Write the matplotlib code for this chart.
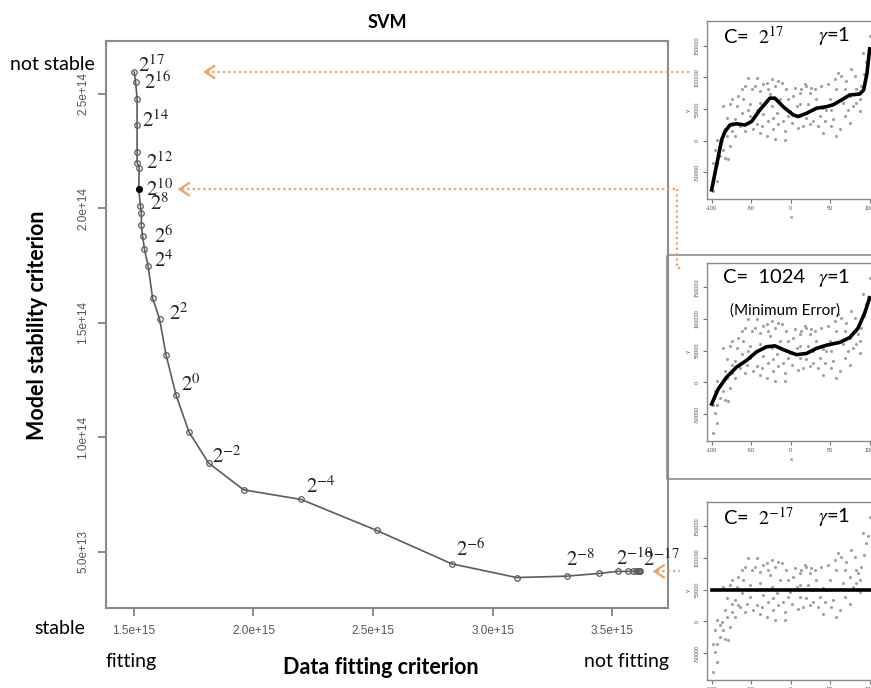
import matplotlib
matplotlib.use('Agg')
import matplotlib.pyplot as plt
from matplotlib.patches import Rectangle

W, H = 871, 688

# --- main chart data: one point per C = 2^k ---
c_exp = [17, 16, 15, 14, 13, 12, 11, 10, 9, 8, 7, 6, 5, 4, 3, 2, 1, 0,
         -1, -2, -3, -4, -5, -6, -7, -8, -9, -10, -11, -12, -13, -14, -15, -16, -17]
fit_crit = [1.501, 1.507, 1.513, 1.513, 1.513, 1.513, 1.522, 1.520, 1.527, 1.531,
            1.531, 1.536, 1.544, 1.559, 1.578, 1.607, 1.634, 1.676, 1.730, 1.812,
            1.959, 2.199, 2.515, 2.829, 3.101, 3.310, 3.446, 3.524, 3.566, 3.589,
            3.600, 3.607, 3.611, 3.614, 3.616]  # x 1e15
stab_crit = [2.595, 2.550, 2.477, 2.364, 2.247, 2.199, 2.177, 2.083, 2.010, 1.979,
             1.925, 1.878, 1.820, 1.749, 1.607, 1.516, 1.360, 1.184, 1.023, 0.887,
             0.770, 0.728, 0.593, 0.447, 0.387, 0.393, 0.405, 0.414, 0.414, 0.414,
             0.414, 0.414, 0.414, 0.414, 0.414]  # x 1e14
labeled_exp = [17, 16, 14, 12, 10, 8, 6, 4, 2, 0, -2, -4, -6, -8, -10, -17]
x_ticks = [1.5e15, 2.0e15, 2.5e15, 3.0e15, 3.5e15]
x_tick_labels = ['1.5e+15', '2.0e+15', '2.5e+15', '3.0e+15', '3.5e+15']
y_ticks = [5e13, 1e14, 1.5e14, 2e14, 2.5e14]
y_tick_labels = ['5.0e+13', '1.0e+14', '1.5e+14', '2.0e+14', '2.5e+14']

# --- inset data (same sample in the three small plots) ---
pts_x = [-98.7, -95.8, -93.7, -92.8, -95.8, -89.5, -87.4, -83.2, -79.0, -76.8,
         -81.1, -74.7, -70.5, -62.1, -60.0, -53.7, -45.3, -38.9, -30.5, -24.2,
         -15.8, -64.2, -55.8, -47.4, -38.9, -30.5, -20.0, -7.4, -68.4, -51.6,
         -34.7, -22.1, -13.7, -5.3, 3.2, 11.6, 15.8, 20.0, 26.3, 32.6,
         36.8, 41.1, 45.3, 53.7, 62.1, 64.2, 70.5, 76.8, 83.2, 87.4,
         91.6, 95.8, 100.0, -81.1, -76.8, -43.2, -26.3, -1.1, 7.4, 28.4,
         49.5, 57.9, 78.9, 87.4, 13.7, -9.5, 24.2,
         -85.3, -74.7, -66.3, -57.9, -49.5, -43.2, -34.7, -28.4, -20.0, -11.6,
         -3.2, 5.3, 11.6, 17.9, 24.2, 30.5, 38.9, 47.4, 55.8, 60.0,
         68.4, 74.7, 81.1, 89.5, -83.2, -70.5, -66.3, -57.9, -51.6, -43.2,
         -36.8, -28.4, -22.1, -15.8, -7.4, 1.1, 9.5, 20.0, 28.4, 34.7,
         43.2, 51.6, 57.9, 68.4, 74.7, 83.2, -89.5, -85.3, -93.7, -97.9,
         -74.7, -62.1, -53.7, -38.9, -24.2, -17.9, -3.2, 11.6, 22.1, 41.1,
         51.6, 66.3, 72.6, 85.3, 92.4, 97.9]
pts_y = [-1.61, -0.97, -1.29, -0.71, -0.29, -0.13, -0.02, -0.55, -0.60, -0.18,
         0.14, 0.30, 0.67, 1.62, 1.30, 1.99, 1.72, 1.57, 1.83, 1.94,
         1.88, 0.46, 0.56, 0.35, 0.24, 0.14, 0.05, 0.03, 1.09, 1.14,
         0.83, 0.72, 1.30, 1.62, 1.41, 0.77, 0.46, 1.72, 1.67, 1.30,
         0.77, 0.24, 0.98, 0.67, 0.35, 2.04, 1.88, 2.25, 1.62, 1.30,
         2.78, 2.47, 3.31, 0.72, 1.14, 0.98, 1.46, 0.93, 1.09, 0.98,
         1.30, 1.62, 1.09, 0.93, 1.62, 0.61, 0.51,
         1.09, 1.30, 1.41, 1.72, 1.62, 1.99, 1.78, 1.62, 1.72, 1.83,
         1.30, 1.67, 1.51, 1.78, 1.51, 1.62, 1.72, 1.78, 1.94, 2.15,
         1.62, 1.41, 2.04, 1.72, 0.35, 0.14, 0.51, 0.30, 0.77, 0.51,
         0.46, 0.61, 0.35, 0.51, 0.30, 0.56, 0.40, 0.72, 0.61, 0.46,
         0.61, 0.46, 0.14, 0.77, 0.56, 1.20, -0.50, -0.29, 0.03, -0.71,
         0.56, 0.88, 0.98, 1.20, 1.09, 0.88, 0.77, 1.14, 1.14, 1.04,
         0.98, 1.20, 0.98, 1.51, 2.10, 2.68]
fit1_x = [-100, -95.8, -91.6, -87.4, -83.2, -76.8, -68.4, -57.9, -49.5, -38.9, -26.3,
          -20.0, -9.5, 3.2, 9.5, 20.0, 32.6, 45.3, 53.7, 64.2, 74.7, 87.4, 92.4, 96.6, 100]
fit1_y = [-1.56, -1.03, -0.51, 0.02, 0.28, 0.49, 0.53, 0.49, 0.60, 0.97, 1.34,
          1.34, 1.07, 0.81, 0.76, 0.86, 1.02, 1.07, 1.13, 1.28, 1.44, 1.47, 1.60, 2.13, 2.90]
fit2_x = [-100, -91.6, -81.1, -68.4, -55.8, -43.2, -30.5, -20.0, -7.4, 7.4, 20.0,
          32.6, 45.3, 62.1, 74.7, 85.3, 93.7, 100]
fit2_y = [-0.69, -0.21, 0.16, 0.48, 0.69, 0.96, 1.12, 1.15, 1.01, 0.87, 0.91,
          1.07, 1.17, 1.26, 1.41, 1.71, 2.19, 2.67]
fit3_x = [-100, 100]
fit3_y = [1.0, 1.0]
in_xticks = [-100, -50, 0, 50, 100]
in_yticks = [-1, 0, 1, 2, 3]
in_ytick_labels = ['-50000', '0', '50000', '100000', '150000']

ORANGE = '#EFA062'
GREY = '#8a8a8a'

plt.rcParams['mathtext.fontset'] = 'stix'
plt.rcParams['font.family'] = ['Lato', 'DejaVu Sans']


def box(l, t, r, b):
    return [l / W, 1 - b / H, (r - l) / W, (b - t) / H]


def ftext(x, y, s, **kw):
    fig.text(x / W, 1 - y / H, s, **kw)


fig = plt.figure(figsize=(W / 100, H / 100), dpi=100)

# --- main plot ---
ax = fig.add_axes(box(106, 41, 668, 608))
fx = [v * 1e15 for v in fit_crit]
fy = [v * 1e14 for v in stab_crit]
ax.plot(fx, fy, '-', color='#5c5c5c', lw=1.2, zorder=2)
ax.plot(fx, fy, 'o', mfc='none', mec='#5c5c5c', ms=4, mew=0.9, zorder=3)
i10 = c_exp.index(10)
ax.plot(fx[i10], fy[i10], 'o', color='black', ms=4, zorder=4)
ax.set_xlim(1.383e15, 3.734e15)
ax.set_ylim(2.54e13, 2.73e14)
ax.set_xticks(x_ticks)
ax.set_xticklabels(x_tick_labels, fontfamily='Liberation Sans')
ax.set_yticks(y_ticks)
ax.set_yticklabels(y_tick_labels, rotation=90, va='center', fontfamily='Liberation Sans')
ax.tick_params(direction='out', length=6, width=1.2, color='#777777',
               labelsize=8.5, labelcolor='#555555', pad=6)
for sp in ax.spines.values():
    sp.set_color(GREY)
    sp.set_linewidth(1.5)

# labels of C values, offsets in pixels
label_off = {17: (4, 7), 16: (8, 0), 14: (5, 5), 12: (9, 0), 10: (7, 0), 8: (9, 10),
             6: (11, 0), 4: (6, 5), 2: (9, 6), 0: (5, 11), -2: (3, 7), -4: (5, 13),
             -6: (4, 15), -8: (-1, 17), -10: (-2, 13), -17: (3, 12)}
for e in labeled_exp:
    i = c_exp.index(e)
    ax.annotate('$2^{%d}$' % e, (fx[i], fy[i]), xytext=label_off[e],
                textcoords='offset pixels', ha='left', va='center',
                fontsize=15, color='#222222', zorder=5)

ftext(387, 22, 'SVM', ha='center', va='center', fontsize=13, fontweight='bold')
ftext(38, 325, 'Model stability criterion', ha='center', va='center', rotation=90,
      fontsize=15.5, fontweight='bold')
ftext(381, 667, 'Data fitting criterion', ha='center', va='center', fontsize=15.5,
      fontweight='bold')
ftext(52, 64, 'not stable', ha='center', va='center', fontsize=14)
ftext(60, 628, 'stable', ha='center', va='center', fontsize=14)
ftext(131, 662, 'fitting', ha='center', va='center', fontsize=14)
ftext(626, 662, 'not fitting', ha='center', va='center', fontsize=14)

# --- insets ---
def inset(top, cx, cy, c_txt, note=None):
    a = fig.add_axes(box(707, top, 876, top + 178))
    a.scatter(pts_x, pts_y, s=5, color='#a0a0a0', lw=0, zorder=2)
    a.plot(cx, cy, color='black', lw=2.6, zorder=3)
    a.set_xlim(-105.9, 108)
    a.set_ylim(-1.85, 3.78)
    a.set_xticks(in_xticks)
    a.set_xticklabels([str(v) for v in in_xticks], fontfamily='Liberation Sans')
    a.set_yticks(in_yticks)
    a.set_yticklabels(in_ytick_labels, rotation=90, va='center', fontfamily='Liberation Sans')
    a.tick_params(direction='out', length=3, width=0.8, color='#777777',
                  labelsize=4, labelcolor='#555555', pad=2)
    a.set_xlabel('x', fontsize=4.5, color='#555555', labelpad=3)
    a.set_ylabel('y', fontsize=4.5, color='#555555', labelpad=3)
    for sp in a.spines.values():
        sp.set_color(GREY)
        sp.set_linewidth(1.0)
    ftext(723, top + 15, c_txt, ha='left', va='center', fontsize=14.5)
    ftext(818, top + 15, r'$\gamma$=1', ha='left', va='center', fontsize=14.5)
    if note:
        ftext(785, top + 48, note, ha='center', va='center', fontsize=11)
    return a


inset(21, fit1_x, fit1_y, r'C=  $2^{17}$')
inset(262.7, fit2_x, fit2_y, 'C=  1024', '(Minimum Error)')
inset(501.7, fit3_x, fit3_y, r'C=  $2^{-17}$')

# --- orange pointers and frame of the chosen model, in pixel space ---
ov = fig.add_axes([0, 0, 1, 1], zorder=10)
ov.set_xlim(0, W)
ov.set_ylim(H, 0)
ov.axis('off')
ov.add_patch(Rectangle((667, 255), 220, 224, fill=False, ec='#909090', lw=1.2))


def to_px(x, y):
    dx, dy = ax.transData.transform((x, y))
    return dx, H - dy


def pointer(e, tip_dx, tail_x):
    px, py = to_px(fx[c_exp.index(e)], fy[c_exp.index(e)])
    tip = px + tip_dx
    ov.plot([tip + 2, tail_x], [py, py], color=ORANGE, lw=1.6, ls=(0, (1, 1.4)))
    ov.plot([tip + 9, tip, tip + 9], [py - 6, py, py + 6], color=ORANGE, lw=1.6,
            solid_joinstyle='miter')
    return py


pointer(17, 71, 690)
y10 = pointer(10, 41, 677)
ov.plot([677, 677, 683], [y10, 268, 268], color=ORANGE, lw=1.6, ls=(0, (1, 1.4)))
pointer(-17, 15, 680)

fig.savefig('out.png', dpi=100)
